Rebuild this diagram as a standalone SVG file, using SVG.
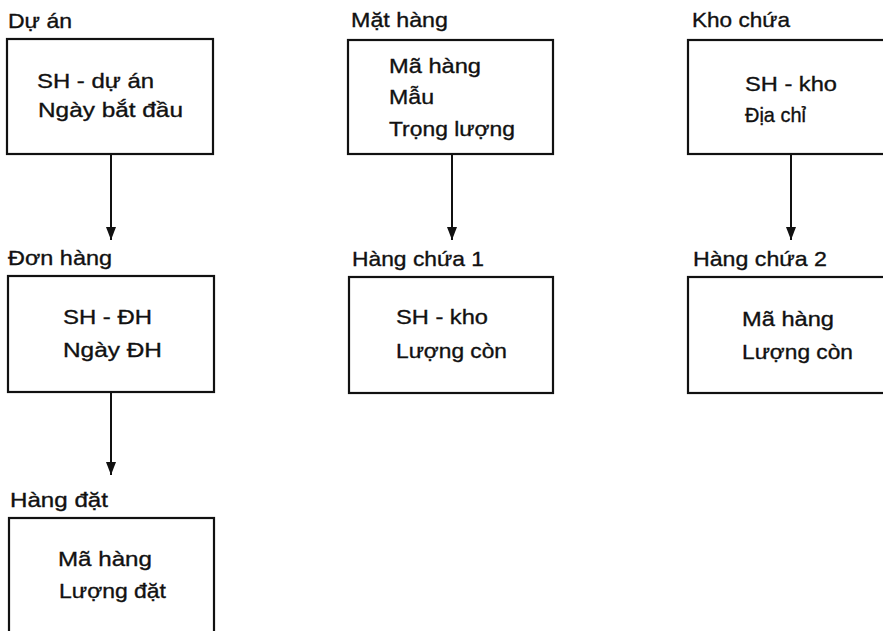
<svg xmlns="http://www.w3.org/2000/svg" width="883" height="631" viewBox="0 0 883 631">
  <style>
    .box { fill: #ffffff; stroke: #111111; stroke-width: 2.2; }
    .lbl, .fld { font-family: "Liberation Sans", Arial, sans-serif; font-size: 21px; fill: #111111; stroke: #111111; stroke-width: 0.35; }
    .link { stroke: #111111; stroke-width: 2; fill: none; marker-end: url(#head); }
  </style>
  <defs>
    <!-- solid triangular arrowhead, tip at the end of the line -->
    <marker id="head" viewBox="0 0 13 10" refX="13" refY="5" markerWidth="13" markerHeight="10" markerUnits="userSpaceOnUse" orient="auto">
      <path d="M0,0 L13,5 L0,10 Z" fill="#111111"/>
    </marker>
  </defs>
  <rect width="883" height="631" fill="#ffffff"/>

  <g id="connectors">
    <line class="link" x1="111" y1="154" x2="111" y2="240"/>
    <line class="link" x1="111" y1="392" x2="111" y2="475"/>
    <line class="link" x1="452" y1="154" x2="452" y2="240"/>
    <line class="link" x1="791" y1="154" x2="791" y2="240"/>
  </g>

  <g id="du-an">
    <text class="lbl" x="8" y="28" textLength="64" lengthAdjust="spacingAndGlyphs">Dự án</text>
    <rect class="box" x="7" y="39" width="206" height="115"/>
    <text class="fld" x="37" y="88" textLength="117" lengthAdjust="spacingAndGlyphs">SH - dự án</text>
    <text class="fld" x="38" y="117" textLength="145" lengthAdjust="spacingAndGlyphs">Ngày bắt đầu</text>
  </g>

  <g id="don-hang">
    <text class="lbl" x="8" y="265" textLength="104" lengthAdjust="spacingAndGlyphs">Đơn hàng</text>
    <rect class="box" x="8" y="276" width="206" height="116"/>
    <text class="fld" x="63" y="324" textLength="89" lengthAdjust="spacingAndGlyphs">SH - ĐH</text>
    <text class="fld" x="63" y="357" textLength="99" lengthAdjust="spacingAndGlyphs">Ngày ĐH</text>
  </g>

  <g id="hang-dat">
    <text class="lbl" x="10" y="507" textLength="98" lengthAdjust="spacingAndGlyphs">Hàng đặt</text>
    <rect class="box" x="9" y="518" width="205" height="130"/>
    <text class="fld" x="58" y="566" textLength="94" lengthAdjust="spacingAndGlyphs">Mã hàng</text>
    <text class="fld" x="59" y="598" textLength="107" lengthAdjust="spacingAndGlyphs">Lượng đặt</text>
  </g>

  <g id="mat-hang">
    <text class="lbl" x="351" y="27" textLength="97" lengthAdjust="spacingAndGlyphs">Mặt hàng</text>
    <rect class="box" x="348" y="40" width="205" height="114"/>
    <text class="fld" x="389" y="73" textLength="92" lengthAdjust="spacingAndGlyphs">Mã hàng</text>
    <text class="fld" x="389" y="104" textLength="45" lengthAdjust="spacingAndGlyphs">Mẫu</text>
    <text class="fld" x="389" y="136" textLength="126" lengthAdjust="spacingAndGlyphs">Trọng lượng</text>
  </g>

  <g id="hang-chua-1">
    <text class="lbl" x="352" y="266" textLength="132" lengthAdjust="spacingAndGlyphs">Hàng chứa 1</text>
    <rect class="box" x="349" y="277" width="204" height="116"/>
    <text class="fld" x="396" y="324" textLength="92" lengthAdjust="spacingAndGlyphs">SH - kho</text>
    <text class="fld" x="396" y="358" textLength="111" lengthAdjust="spacingAndGlyphs">Lượng còn</text>
  </g>

  <g id="kho-chua">
    <text class="lbl" x="692" y="27" textLength="98" lengthAdjust="spacingAndGlyphs">Kho chứa</text>
    <rect class="box" x="688" y="40" width="210" height="114"/>
    <text class="fld" x="745" y="91" textLength="92" lengthAdjust="spacingAndGlyphs">SH - kho</text>
    <text class="fld" x="745" y="122" textLength="61" lengthAdjust="spacingAndGlyphs">Địa chỉ</text>
  </g>

  <g id="hang-chua-2">
    <text class="lbl" x="693" y="266" textLength="134" lengthAdjust="spacingAndGlyphs">Hàng chứa 2</text>
    <rect class="box" x="688" y="277" width="210" height="116"/>
    <text class="fld" x="742" y="326" textLength="92" lengthAdjust="spacingAndGlyphs">Mã hàng</text>
    <text class="fld" x="742" y="359" textLength="111" lengthAdjust="spacingAndGlyphs">Lượng còn</text>
  </g>
</svg>
